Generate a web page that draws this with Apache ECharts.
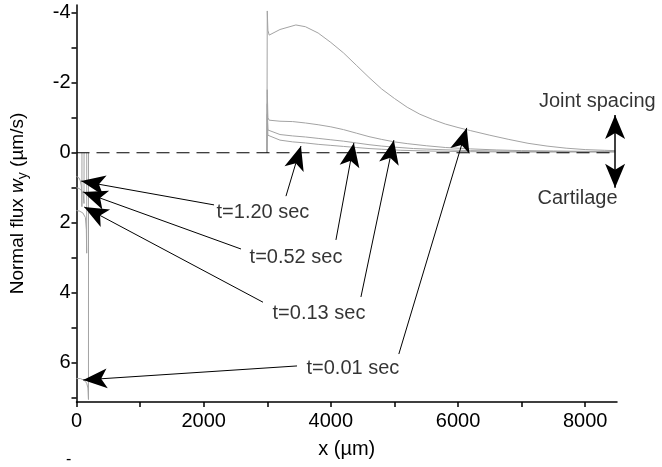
<!DOCTYPE html>
<html>
<head>
<meta charset="utf-8">
<script src="https://cdn.jsdelivr.net/npm/echarts@6/dist/echarts.min.js"></script>
<style>html,body{margin:0;padding:0;background:#fff;}#c{width:662px;height:467px;}</style>
</head>
<body>
<div id="c"></div>
<script>
// ---- data (x in µm, flux in µm/s) ----
const xTickLabels = [0, 2000, 4000, 6000, 8000];
const xTicks = [0, 1000, 2000, 3000, 4000, 5000, 6000, 7000, 8000];
const yTickLabels = [-4, -2, 0, 2, 4, 6];
const yTicks = [-4, -3, -2, -1, 0, 1, 2, 3, 4, 5, 6, 7];

const seriesNames = ['t=0.01 sec', 't=0.13 sec', 't=0.52 sec', 't=1.20 sec'];

const t001Left = [[0,6.45],[60,6.45],[120,6.5],[160,6.58],[180,6.72],[188,7.05],[189,0]];
const t001Right = [[2995,0],[3000,-4.05],[3010,-3.5],[3030,-3.36],[3200,-3.52],[3450,-3.65],[3600,-3.6],[3800,-3.42],[4000,-3.15],[4200,-2.85],[4400,-2.5],[4600,-2.15],[4800,-1.82],[5000,-1.55],[5200,-1.3],[5400,-1.1],[5600,-0.95],[5800,-0.82],[6000,-0.72],[6200,-0.63],[6500,-0.5],[6800,-0.38],[7100,-0.27],[7400,-0.19],[7700,-0.13],[8000,-0.09],[8300,-0.07],[8470,-0.06]];

const t013Left = [[0,1.65],[50,1.67],[100,1.72],[140,1.85],[155,2.2],[160,2.87],[161,0]];
const t013Right = [[2995,0],[3000,-1.8],[3010,-1.0],[3030,-0.93],[3200,-0.9],[3400,-0.89],[3600,-0.85],[3800,-0.8],[4000,-0.74],[4200,-0.66],[4400,-0.56],[4600,-0.46],[4800,-0.38],[5000,-0.31],[5200,-0.26],[5500,-0.2],[5800,-0.15],[6200,-0.11],[6600,-0.08],[7000,-0.06],[7500,-0.05],[8000,-0.04],[8470,-0.04]];

const t052Left = [[0,1.0],[40,1.02],[80,1.08],[105,1.18],[118,1.45],[119,0]];
const t052Right = [[2995,0],[3000,-1.4],[3010,-0.65],[3030,-0.6],[3200,-0.52],[3400,-0.48],[3600,-0.45],[3800,-0.41],[4000,-0.37],[4200,-0.33],[4400,-0.28],[4600,-0.23],[4800,-0.19],[5000,-0.16],[5300,-0.12],[5700,-0.09],[6200,-0.06],[7000,-0.04],[8470,-0.03]];

const t120Left = [[0,0.68],[20,0.68],[40,0.72],[60,0.8],[75,0.95],[82,1.2],[85,1.54],[86,0]];
const t120Right = [[2995,0],[3000,-1.1],[3010,-0.5],[3030,-0.46],[3200,-0.36],[3400,-0.31],[3600,-0.28],[3800,-0.24],[4000,-0.21],[4200,-0.18],[4400,-0.15],[4600,-0.12],[4800,-0.1],[5100,-0.07],[5500,-0.05],[6200,-0.03],[7000,-0.02],[8470,-0.02]];

const baseline = [[0,0],[8470,0]];

// annotation label positions [x, y]
const labelPos = [[4347,6.15],[3813,4.58],[3452,2.98],[2932,1.72]];
// arrows: [start, tip]
const arrowsLeft = [
  [[3468,6.09],[105,6.49]],
  [[2933,4.27],[121,1.55]],
  [[2587,2.75],[105,1.12]],
  [[2163,1.49],[74,0.81]]
];
const arrowsRight = [
  [[5069,5.75],[6137,-0.71]],
  [[4473,4.12],[4991,-0.36]],
  [[4080,2.49],[4362,-0.28]],
  [[3294,1.24],[3530,-0.19]]
];
const sideArrow = [[8470,-1.08],[8470,1.0]];
const sideLabels = [['Joint spacing',[8190,-1.45]],['Cartilage',[7880,1.32]]];

// ---- chart ----
const FONT = 'Liberation Sans, Arial, Helvetica, sans-serif';
const grey = '#a3a3a3';
function joinSeg(a, b) { return a.concat([['-','-']], b); }

const curves = [
  joinSeg(t001Left, t001Right),
  joinSeg(t013Left, t013Right),
  joinSeg(t052Left, t052Right),
  joinSeg(t120Left, t120Right)
];

const series = curves.map((d, i) => ({
  name: seriesNames[i],
  type: 'line',
  data: d,
  showSymbol: false,
  symbol: 'none',
  connectNulls: false,
  lineStyle: { color: grey, width: 1 },
  silent: true,
  z: 2
}));

const AH = [15, 24];
const arrowLine = (pair) => [
  { coord: pair[0], symbol: 'none' },
  { coord: pair[1], symbol: 'arrow', symbolSize: AH }
];

series.push({
  type: 'line',
  data: baseline,
  showSymbol: false,
  symbol: 'none',
  lineStyle: { color: '#000', width: 1.2, type: [13, 7] },
  silent: true,
  z: 3
});

series.push({
  type: 'scatter',
  symbolSize: 0,
  silent: true,
  clip: false,
  data: labelPos.map((p, i) => ({ value: p, name: seriesNames[i] })).concat(
    sideLabels.map(s => ({ value: s[1], name: s[0] }))
  ),
  label: {
    show: true,
    position: 'inside',
    formatter: (p) => p.name,
    color: '#000',
    fontSize: 20,
    fontFamily: FONT
  },
  markLine: {
    silent: true,
    animation: false,
    symbol: ['none', 'arrow'],
    symbolSize: AH,
    lineStyle: { color: '#000', width: 1, type: 'solid' },
    label: { show: false },
    data: arrowsLeft.map(arrowLine).concat(arrowsRight.map(arrowLine)).concat([
      [
        { coord: sideArrow[0], symbol: 'arrow', symbolSize: AH, lineStyle: { width: 1.5 } },
        { coord: sideArrow[1], symbol: 'arrow', symbolSize: AH, lineStyle: { width: 1.5 } }
      ]
    ])
  },
  z: 5
});

const chart = echarts.init(document.getElementById('c'), null, { renderer: 'canvas' });
chart.setOption({
  animation: false,
  backgroundColor: '#fff',
  grid: { left: 75, right: 45, top: 5, bottom: 65, containLabel: false },
  xAxis: {
    type: 'value',
    min: 0,
    max: 8500,
    name: 'x (µm)',
    nameLocation: 'middle',
    nameGap: 37,
    nameTextStyle: { fontSize: 20, fontFamily: FONT, color: '#000' },
    axisLine: { show: true, onZero: false, lineStyle: { color: '#000', width: 1.5 } },
    axisTick: { show: true, length: 5, customValues: xTicks, lineStyle: { color: '#000', width: 1.5 } },
    axisLabel: { customValues: xTickLabels, formatter: (v) => String(v), fontSize: 20, fontFamily: FONT, color: '#000', margin: 9 },
    splitLine: { show: false }
  },
  yAxis: {
    type: 'value',
    inverse: true,
    min: -4.22,
    max: 7.12,
    name: '{a|Normal flux }{i|w}{s|y}{a| (µm/s)}',
    nameLocation: 'middle',
    nameRotate: 90,
    nameGap: 46,
    nameTextStyle: {
      fontSize: 19, fontFamily: FONT, color: '#000',
      rich: {
        a: { fontSize: 19, fontFamily: FONT, color: '#000' },
        i: { fontSize: 19, fontFamily: FONT, fontStyle: 'italic', color: '#000' },
        s: { fontSize: 14, fontFamily: FONT, color: '#000', padding: [12, 0, 0, 0] }
      }
    },
    axisLine: { show: true, onZero: false, lineStyle: { color: '#000', width: 1.5 } },
    axisTick: { show: true, length: 5, customValues: yTicks, lineStyle: { color: '#000', width: 1.5 } },
    axisLabel: { customValues: yTickLabels, formatter: (v) => String(v), fontSize: 20, fontFamily: FONT, color: '#000', margin: 6 },
    splitLine: { show: false }
  },
  graphic: [
    { type: 'text', left: 66, top: 452, style: { text: '-', fontSize: 16, fontFamily: FONT, fill: '#000' } }
  ],
  series: series
});
</script>
</body>
</html>
